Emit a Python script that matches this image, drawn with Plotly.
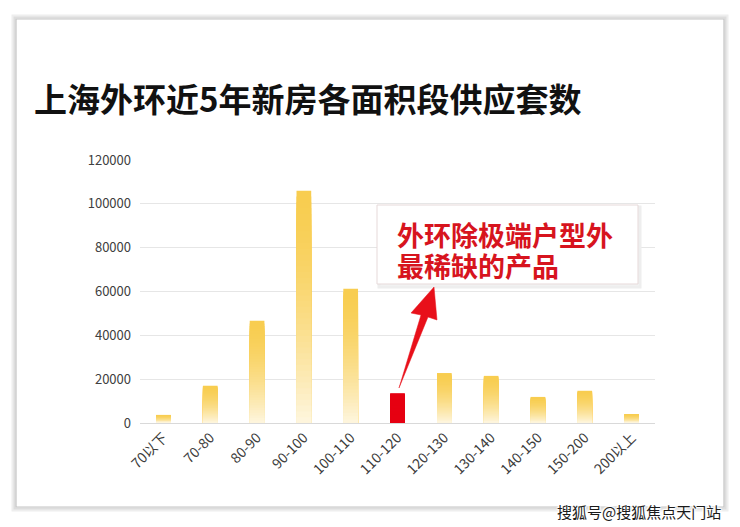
import plotly.graph_objects as go

# data
categories = ['70以下', '70-80', '80-90', '90-100', '100-110', '110-120',
              '120-130', '130-140', '140-150', '150-200', '200以上']
supply = [3700, 17000, 46600, 106000, 61300, 13600, 22800, 21500, 11900, 14700, 4100]
highlight = '110-120'
y_ticks = [0, 20000, 40000, 60000, 80000, 100000, 120000]

title = '上海外环近5年新房各面积段供应套数'
callout = ['外环除极端户型外', '最稀缺的产品']
watermark = '搜狐号@搜狐焦点天门站'

# the page body has an 8px margin, so the figure is made smaller and
# all the pixel positions below are in window coordinates
OFF = 8
W, H = 740, 527
L, R, T, B = 140, 655, 160, 423   # plot area in window pixels
FONT = 'Noto Sans CJK SC'


def px(x):
    return (x - L) / (R - L)


def py(y):
    return (B - y) / (B - T)


def mix(c1, c2, t):
    return 'rgb(%d,%d,%d)' % tuple(round(a + (b - a) * t) for a, b in zip(c1, c2))


gold = (248, 205, 80)
pale = (254, 247, 226)
red = '#e60012'

# gradient bars: overlaid bars of shrinking height, paler towards the bottom
N = 40
fig = go.Figure()
for k in range(N):
    frac = (N - k) / N
    t = (1 - frac) ** 1.6
    col = mix(gold, pale, t)
    fig.add_trace(go.Bar(
        x=categories,
        y=[v * frac for v in supply],
        marker=dict(color=[red if c == highlight else col for c in categories],
                    line=dict(width=0)),
        hoverinfo='skip',
        showlegend=False,
    ))

shapes = []
# card frame with soft shadow
for off, c, w in [(3, '#eeeeee', 3), (1.5, '#dddddd', 2), (0, '#c4c4c4', 1.2)]:
    shapes.append(dict(type='rect', xref='paper', yref='paper', layer='below',
                       x0=px(16 - off), x1=px(724 + off), y0=py(19 - off), y1=py(507 + off),
                       line=dict(color=c, width=w), fillcolor='rgba(0,0,0,0)'))

# callout box
shapes.append(dict(type='rect', xref='paper', yref='paper',
                   x0=px(379), x1=px(640), y0=py(207), y1=py(287),
                   line=dict(color='#eeeeee', width=3), fillcolor='#f4f4f4'))
shapes.append(dict(type='rect', xref='paper', yref='paper',
                   x0=px(377), x1=px(638), y0=py(205), y1=py(284),
                   line=dict(color='#e6d9d9', width=1), fillcolor='white'))

# tapered arrow from the highlighted bar up to the callout
arrow = [(399, 388), (421, 315), (411, 313), (434, 287), (437, 320), (428, 317)]
path = 'M ' + ' L '.join('%f,%f' % (px(x), py(y)) for x, y in arrow) + ' Z'
shapes.append(dict(type='path', xref='paper', yref='paper', path=path,
                   fillcolor='#e8101a', line=dict(color='#e8101a', width=0.5)))

annotations = [
    dict(text='<b>%s</b>' % title, xref='paper', yref='paper', x=px(32), y=py(98),
         xanchor='left', yanchor='middle', showarrow=False,
         font=dict(family=FONT, size=33, color='#111111')),
    dict(text='<b>%s</b>' % callout[0], xref='paper', yref='paper', x=px(395), y=py(234),
         xanchor='left', yanchor='middle', showarrow=False, height=31,
         font=dict(family=FONT, size=27, color='#d7141e')),
    dict(text='<b>%s</b>' % callout[1], xref='paper', yref='paper', x=px(395), y=py(265),
         xanchor='left', yanchor='middle', showarrow=False, height=31,
         font=dict(family=FONT, size=27, color='#d7141e')),
    dict(text=watermark, xref='paper', yref='paper', x=px(723), y=py(511),
         xanchor='right', yanchor='middle', showarrow=False,
         font=dict(family=FONT, size=15, color='#1a1a1a',
                   shadow='1px 1px 1px white, -1px -1px 1px white, 1px -1px 1px white, -1px 1px 1px white')),
]

fig.update_layout(
    width=W - OFF, height=H - OFF,
    margin=dict(l=L - OFF, r=W - R, t=T - OFF, b=H - B),
    paper_bgcolor='white', plot_bgcolor='white',
    barmode='overlay', bargap=0.686,
    shapes=shapes, annotations=annotations,
    font=dict(family=FONT),
)
fig.update_yaxes(range=[0, 120000], tickvals=y_ticks, ticktext=[str(v) for v in y_ticks],
                 showgrid=True, gridcolor='#e6e6e6', gridwidth=1,
                 zeroline=True, zerolinecolor='#d9d9d9', zerolinewidth=1,
                 ticks='', ticklabelstandoff=8,
                 tickfont=dict(family=FONT, size=13, color='#404040'))
fig.update_xaxes(type='category', tickangle=-45, showgrid=False, ticks='',
                 showline=True, linecolor='#d9d9d9',
                 tickfont=dict(family=FONT, size=14, color='#3c3c3c'))

fig.write_html('out.html')
